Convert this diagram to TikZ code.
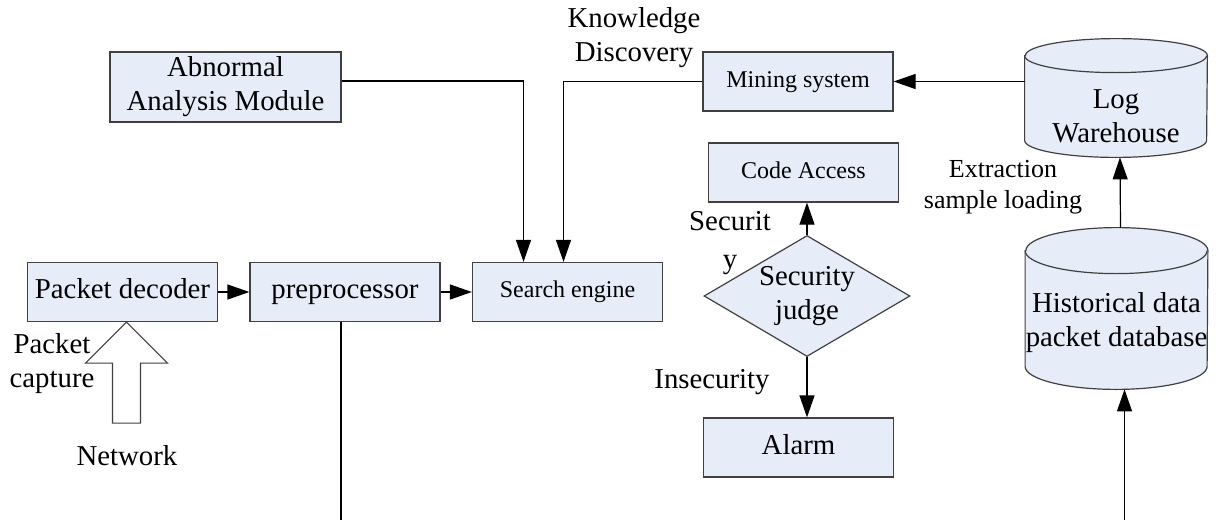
\documentclass[tikz,border=0pt]{standalone}
\usepackage{fontspec}
\setmainfont{Liberation Serif}
\usetikzlibrary{arrows.meta, positioning, shapes.geometric}

\definecolor{boxfill}{RGB}{230,237,248}
\definecolor{edgegray}{RGB}{64,64,64}
\newcommand\bigtxt{\fontsize{14.4}{17}\selectfont}
\newcommand\smalltxt{\fontsize{12}{14}\selectfont}
\newcommand\midtxt{\fontsize{13}{15.5}\selectfont}
% cylinder drawn round an empty node: #1 node name, #2 radius of its ends
\newcommand\dbshape[2]{%
  \draw[draw=edgegray, fill=boxfill, line width=0.6pt]
    ([yshift=-#2]#1.north west) -- ([yshift=#2]#1.south west)
    arc[start angle=180, end angle=360, x radius=45.5pt, y radius=#2]
    -- ([yshift=-#2]#1.north east)
    arc[start angle=0, end angle=180, x radius=45.5pt, y radius=#2] -- cycle;
  \draw[draw=edgegray, line width=0.6pt] ([yshift=-#2]#1.north west)
    arc[start angle=180, end angle=360, x radius=45.5pt, y radius=#2];}

\begin{document}
\begin{tikzpicture}[
  x=0.5pt, y=-0.5pt,
  box/.style={draw=edgegray, fill=boxfill, line width=0.6pt,
              minimum width=95pt, minimum height=29.5pt,
              text height=9.5pt, text depth=3pt,
              inner sep=1pt, font=\bigtxt},
  tall/.style={align=center, text height=, text depth=},
  smallbox/.style={box, font=\smalltxt, text height=8pt, text depth=2.5pt},
  judgebox/.style={box, tall, diamond, aspect=1.7, minimum width=103pt,
              minimum height=60.5pt, inner sep=0pt},
  dbbox/.style={minimum width=91pt, inner sep=0pt},
  lbl/.style={align=center, font=\bigtxt, inner sep=0pt},
  arr/.style={-{Triangle[length=11pt,width=7.5pt]}, line width=0.6pt}
]
  \useasboundingbox (0,0) rectangle (1216,520);

  % boxes
  \node[box, tall, minimum width=115.5pt, minimum height=35pt] (abn) at (225.5,87)
        {Abnormal\\Analysis Module};
  \node[box]      (pdec)   at (122.5,292) {Packet decoder};
  \node[box]      (prep)   at (345,292)   {preprocessor};
  \node[smallbox] (search) at (567.5,292) {Search engine};
  \node[smallbox] (mining) at (798,81.5)  {Mining system};
  \node[smallbox] (code)   at (803.5,172.5) {Code Access};
  \node[judgebox] (judge)  at (807,296)   {Security\\judge};
  \node[box]      (alarm)  at (798.5,447.5) {Alarm};

  % databases
  \node[dbbox, minimum height=59pt]   (logwh) at (1116,98) {};
  \node[dbbox, minimum height=80.5pt] (hist)  at (1116.5,308.5) {};
  \dbshape{logwh}{8.5pt}
  \dbshape{hist}{11.5pt}
  \node[lbl] (logtxt)  at ([yshift=-9pt]logwh.center) {Log\\Warehouse};
  \node[lbl] (histtxt) at ([yshift=-7.25pt]hist.center) {Historical data\\packet database};

  % loose ends at the bottom edge
  \coordinate (prepend) at ([xshift=-2pt]prep.south |- 0,520);
  \coordinate (histend) at ([xshift=4pt]hist.south |- 0,520);

  % labels
  \node[lbl] (kd)   at (634,38)   {Knowledge\\Discovery};
  \node[lbl, font=\midtxt] (ext) at (1003,187) {Extraction\\sample loading};
  \node[lbl] (capt) at (52,364)   {Packet\\capture};
  \node[lbl] (net)  at (127,456)  {Network};
  \node[lbl, font=\fontsize{14.4}{19}\selectfont] (sec) at (730,243) {Securit\\y};
  \node[lbl] (insec) at (712,382) {Insecurity};

  % network input
  \draw[draw=edgegray, fill=white, line width=0.6pt] ([xshift=2pt]pdec.south)
        -- ++(41,41) -- ++(-27,0) -- ++(0,60) -- ++(-28,0)
        -- ++(0,-60) -- ++(-27,0) -- cycle;

  % connectors
  \draw[arr] (pdec) -- (prep);
  \draw[arr] (prep) -- (search);
  \draw[arr] ([yshift=3pt]abn.east) -| ([xshift=-22pt]search.north);
  \draw[arr] (mining.west) -| ([xshift=-2pt]search.north);
  \draw[arr] (logwh.west |- mining.east) -- (mining.east);
  \draw[arr] ([xshift=2pt]hist.north) -- ([xshift=2pt]logwh.south);
  \draw[arr] (judge.north) -- (judge.north |- code.south);
  \draw[arr] (judge.south) -- (judge.south |- alarm.north);
  \draw[line width=0.6pt] ([xshift=-2pt]prep.south) -- (prepend);
  \draw[arr] (histend) -- ([xshift=4pt]hist.south);
\end{tikzpicture}
\end{document}
